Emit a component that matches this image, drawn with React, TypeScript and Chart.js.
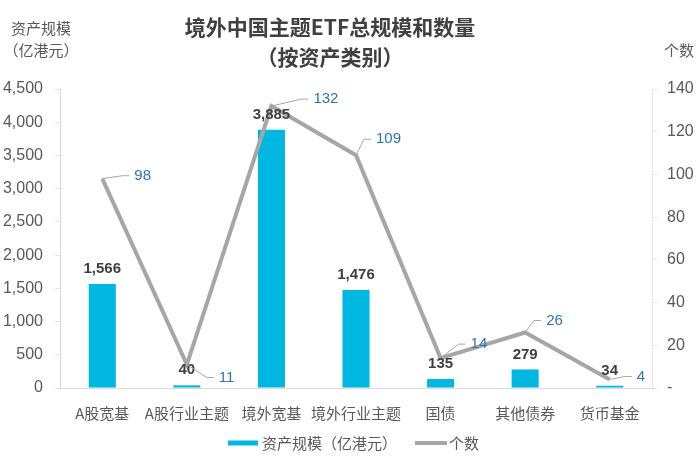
import React, { useEffect, useRef } from "react";
import { Chart, registerables } from "chart.js";

Chart.register(...registerables);

const categories = ["A股宽基", "A股行业主题", "境外宽基", "境外行业主题", "国债", "其他债券", "货币基金"];
const assetSize = [1566, 40, 3885, 1476, 135, 279, 34];
const fundCount = [98, 11, 132, 109, 14, 26, 4];
const leftTicks = { min: 0, max: 4500, step: 500 };
const rightTicks = { min: 0, max: 140, step: 20 };
const seriesNames = ["资产规模（亿港元）", "个数"];
const titleLines = ["境外中国主题ETF总规模和数量", "（按资产类别）"];
const leftAxisTitle = ["资产规模", "（亿港元）"];
const rightAxisTitle = "个数";
// label offsets (styling) for the line value callouts: [dx, dy] from point
const countLabelOffsets: [number, number][] = [
  [32, -3], [32, 13], [42, -7], [20, -16], [30, -14], [21, -12], [27, -3],
];

const BAR_COLOR = "#00B7E1";
const LINE_COLOR = "#A6A6A6";
const TEXT = "#595959";
const FONT = "'Liberation Sans', 'Noto Sans CJK SC', sans-serif";
const CJK = "'Noto Sans CJK SC', 'Liberation Sans', sans-serif";

const fmt = (v: number) => v.toLocaleString("en-US");

const overlay = {
  id: "overlay",
  afterDraw(chart: any) {
    const ctx = chart.ctx;
    ctx.save();
    // titles
    ctx.fillStyle = "#404040";
    ctx.textAlign = "center";
    ctx.textBaseline = "middle";
    ctx.font = `bold 21px ${CJK}`;
    ctx.fillText(titleLines[0], 330, 27);
    ctx.fillText(titleLines[1], 330, 57);
    ctx.fillStyle = TEXT;
    ctx.font = `15px ${CJK}`;
    ctx.fillText(leftAxisTitle[0], 41, 28);
    ctx.fillText(leftAxisTitle[1], 41, 50);
    ctx.fillText(rightAxisTitle, 679, 50);

    // bar labels
    const barMeta = chart.getDatasetMeta(0);
    ctx.font = `bold 15px ${FONT}`;
    ctx.fillStyle = "#404040";
    barMeta.data.forEach((el: any, i: number) => {
      ctx.fillText(fmt(assetSize[i]), el.x, el.y - 15);
    });

    // line labels with leaders
    const lineMeta = chart.getDatasetMeta(1);
    ctx.font = `15px ${FONT}`;
    ctx.textAlign = "left";
    lineMeta.data.forEach((el: any, i: number) => {
      const [dx, dy] = countLabelOffsets[i];
      const px = el.x, py = el.y;
      ctx.strokeStyle = LINE_COLOR;
      ctx.lineWidth = 1;
      ctx.beginPath();
      ctx.moveTo(px, py);
      ctx.lineTo(px + dx - 12, py + dy);
      ctx.lineTo(px + dx - 5, py + dy);
      ctx.stroke();
      ctx.fillStyle = "#2E75B6";
      ctx.fillText(String(fundCount[i]), px + dx, py + dy);
    });

    // legend
    const ly = 443;
    ctx.fillStyle = BAR_COLOR;
    ctx.fillRect(228, ly - 2.5, 30, 5);
    ctx.strokeStyle = LINE_COLOR;
    ctx.lineWidth = 4;
    ctx.beginPath();
    ctx.moveTo(415, ly);
    ctx.lineTo(447, ly);
    ctx.stroke();
    ctx.fillStyle = TEXT;
    ctx.font = `15px ${CJK}`;
    ctx.textAlign = "left";
    ctx.fillText(seriesNames[0], 262, ly);
    ctx.fillText(seriesNames[1], 449, ly);
    ctx.restore();
  },
};

export default function App() {
  const ref = useRef<HTMLCanvasElement>(null);
  useEffect(() => {
    const chart = new Chart(ref.current!, {
      type: "bar",
      data: {
        labels: categories,
        datasets: [
          {
            type: "bar",
            label: seriesNames[0],
            data: assetSize,
            backgroundColor: BAR_COLOR,
            yAxisID: "y",
            barPercentage: 0.32,
            categoryPercentage: 1,
            order: 2,
          },
          {
            type: "line",
            label: seriesNames[1],
            data: fundCount,
            borderColor: LINE_COLOR,
            borderWidth: 4,
            pointRadius: 0,
            tension: 0,
            yAxisID: "y1",
            order: 1,
          } as any,
        ],
      },
      options: {
        responsive: false,
        animation: false,
        layout: { padding: { top: 89, bottom: 38, left: 0, right: 0 } },
        plugins: { legend: { display: false }, title: { display: false }, tooltip: { enabled: false } },
        scales: {
          x: {
            grid: { display: false },
            border: { display: true, color: "#D9D9D9", width: 1 },
            ticks: { color: TEXT, font: { family: CJK, size: 15 }, padding: 8, maxRotation: 0, autoSkip: false },
            afterFit: (s: any) => { s.height = 40; },
          },
          y: {
            position: "left",
            min: leftTicks.min,
            max: leftTicks.max,
            ticks: { stepSize: leftTicks.step, color: TEXT, font: { family: FONT, size: 16 }, padding: 12, callback: (v: any) => fmt(Number(v)) },
            grid: { display: true, drawOnChartArea: false, drawTicks: true, tickLength: 5, color: "#E3E3E3" },
            border: { display: true, color: "#D9D9D9" },
            afterFit: (s: any) => { s.width = 60; },
          },
          y1: {
            position: "right",
            min: rightTicks.min,
            max: rightTicks.max,
            ticks: { stepSize: rightTicks.step, color: TEXT, font: { family: FONT, size: 16 }, padding: 10, callback: (v: any) => (Number(v) === 0 ? "-" : String(v)) },
            grid: { display: true, drawOnChartArea: false, drawTicks: true, tickLength: 5, color: "#E3E3E3" },
            border: { display: true, color: "#E6E6E6" },
            afterFit: (s: any) => { s.width = 48; },
          },
        },
      },
      plugins: [overlay],
    });
    return () => chart.destroy();
  }, []);
  return (
    <div style={{ position: "fixed", left: 0, top: 0, width: 700, height: 466, background: "#fff" }}>
      <canvas ref={ref} width={700} height={466} style={{ width: 700, height: 466 }} />
    </div>
  );
}
